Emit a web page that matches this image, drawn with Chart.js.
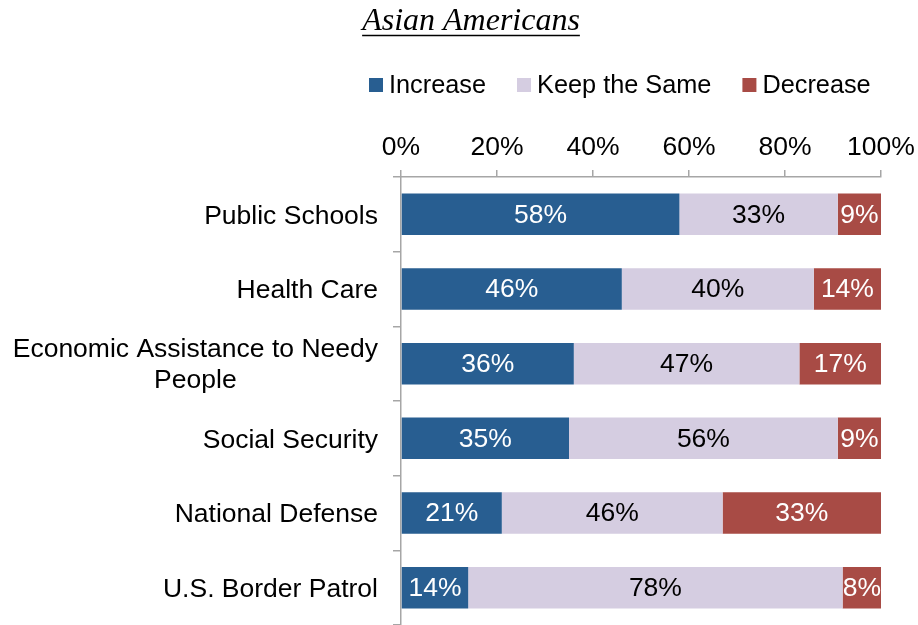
<!DOCTYPE html>
<html>
<head>
<meta charset="utf-8">
<script src="https://cdn.jsdelivr.net/npm/chart.js@4/dist/chart.umd.min.js"></script>
<style>
  html, body { margin: 0; padding: 0; background: #ffffff; }
  #wrap { width: 918px; height: 625px; position: relative; }
</style>
</head>
<body>
<div id="wrap"><canvas id="c" width="918" height="625"></canvas></div>
<script>
const chartTitle = "Asian Americans";
const categories = [
  "Public Schools",
  "Health Care",
  ["Economic Assistance to Needy", "People"],
  "Social Security",
  "National Defense",
  "U.S. Border Patrol"
];
const seriesNames = ["Increase", "Keep the Same", "Decrease"];
const increaseValues = [58, 46, 36, 35, 21, 14];
const keepSameValues = [33, 40, 47, 56, 46, 78];
const decreaseValues = [9, 14, 17, 9, 33, 8];
const xTickValues = [0, 20, 40, 60, 80, 100];

const seriesColors = ["#285E91", "#D5CDE1", "#A84B45"];
const labelColors = ["#FFFFFF", "#000000", "#FFFFFF"];
const FONT = "'Liberation Sans', Arial, sans-serif";
const FS = 26.5;
const LEGEND_FS = 25.3;
const AXIS_COLOR = "#A6A6A6";

const seriesValues = [increaseValues, keepSameValues, decreaseValues];

const overlayPlugin = {
  id: 'overlay',
  afterDatasetsDraw(chart) {
    const ctx = chart.ctx;
    ctx.save();
    ctx.font = FS + "px " + FONT;
    ctx.textAlign = 'center';
    ctx.textBaseline = 'middle';
    chart.data.datasets.forEach((ds, di) => {
      const meta = chart.getDatasetMeta(di);
      meta.data.forEach((bar, i) => {
        const v = ds.data[i];
        const cx = (bar.x + bar.base) / 2;
        ctx.fillStyle = labelColors[di];
        ctx.fillText(v + "%", cx, bar.y + 1);
      });
    });
    ctx.restore();
  },
  afterDraw(chart) {
    const ctx = chart.ctx;
    const yScale = chart.scales.y;
    // category labels (block right-aligned, lines centered)
    ctx.save();
    ctx.font = FS + "px " + FONT;
    ctx.fillStyle = "#000000";
    ctx.textBaseline = 'middle';
    const rightEdge = 378;
    const lineH = 31;
    categories.forEach((lab, i) => {
      const y = yScale.getPixelForValue(i);
      const lines = Array.isArray(lab) ? lab : [lab];
      const widths = lines.map(l => ctx.measureText(l).width);
      const maxW = Math.max(...widths);
      const center = rightEdge - maxW / 2;
      ctx.textAlign = 'center';
      lines.forEach((l, k) => {
        const ly = y + 2 + (k - (lines.length - 1) / 2) * lineH;
        ctx.fillText(l, center, ly);
      });
    });
    ctx.restore();

    // title
    ctx.save();
    ctx.font = "italic 32px 'Liberation Serif', 'Times New Roman', serif";
    ctx.fillStyle = "#000000";
    ctx.textAlign = 'center';
    ctx.textBaseline = 'alphabetic';
    const tx = 471, ty = 30;
    ctx.fillText(chartTitle, tx, ty);
    const tw = ctx.measureText(chartTitle).width;
    ctx.strokeStyle = "#000000";
    ctx.lineWidth = 1.5;
    ctx.beginPath();
    ctx.moveTo(tx - tw / 2, 35.5);
    ctx.lineTo(tx + tw / 2, 35.5);
    ctx.stroke();
    ctx.restore();

    // legend
    ctx.save();
    ctx.font = LEGEND_FS + "px " + FONT;
    ctx.textBaseline = 'middle';
    ctx.textAlign = 'left';
    const box = 14, gapBT = 6, gapItem = 31;
    const widths = seriesNames.map(n => ctx.measureText(n).width);
    let x = 369;
    const ly = 85;
    seriesNames.forEach((n, i) => {
      ctx.fillStyle = seriesColors[i];
      ctx.fillRect(x, ly - 7, box, box);
      ctx.fillStyle = "#000000";
      ctx.fillText(n, x + box + gapBT, ly + 1);
      x += box + gapBT + widths[i] + gapItem;
    });
    ctx.restore();
  }
};

new Chart(document.getElementById('c'), {
  type: 'bar',
  data: {
    labels: categories,
    datasets: seriesNames.map((name, i) => ({
      label: name,
      data: seriesValues[i],
      backgroundColor: seriesColors[i],
      borderWidth: 0,
      barPercentage: 0.555,
      categoryPercentage: 1.0
    }))
  },
  options: {
    indexAxis: 'y',
    responsive: false,
    animation: false,
    devicePixelRatio: 1,
    layout: { padding: { top: 117, right: 37, bottom: 0, left: 0 } },
    plugins: {
      legend: { display: false },
      title: { display: false },
      tooltip: { enabled: false }
    },
    scales: {
      x: {
        position: 'top',
        stacked: true,
        min: 0,
        max: 100,
        afterBuildTicks(scale) { scale.ticks = xTickValues.map(v => ({ value: v })); },
        afterFit(scale) {
          scale.height = 60;
          scale.paddingLeft = 0;
          scale.paddingRight = 0;
        },
        ticks: {
          callback: v => v + "%",
          font: { family: FONT, size: FS },
          color: "#000000",
          padding: 6,
          maxRotation: 0
        },
        grid: {
          drawOnChartArea: false,
          drawTicks: true,
          tickLength: 7,
          color: AXIS_COLOR,
          lineWidth: 1.5
        },
        border: { display: true, color: AXIS_COLOR, width: 1.5 }
      },
      y: {
        stacked: true,
        afterFit(scale) { scale.width = 401; },
        ticks: { display: false },
        grid: {
          drawOnChartArea: false,
          drawTicks: true,
          tickLength: 8,
          color: AXIS_COLOR,
          lineWidth: 1.5,
          offset: true
        },
        border: { display: true, color: AXIS_COLOR, width: 1.5 }
      }
    }
  },
  plugins: [overlayPlugin]
});
</script>
</body>
</html>
